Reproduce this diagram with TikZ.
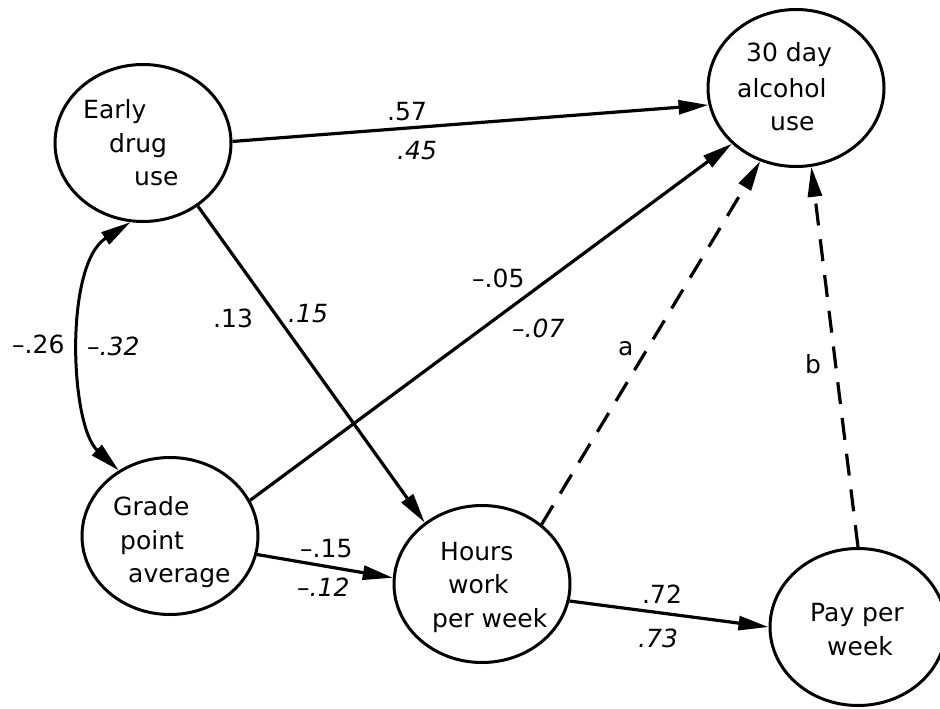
\documentclass[tikz,border=0pt]{standalone}
\usepackage{fontspec}
\setmainfont{DejaVu Sans}
\usetikzlibrary{shapes.geometric,arrows.meta}
\begin{document}
\begin{tikzpicture}[x=1pt,y=-1pt,
  var/.style={ellipse,draw,line width=3pt,minimum width=176pt,minimum height=157pt,inner sep=0pt},
  txt/.style={anchor=base west,inner sep=0pt,font=\fontsize{25}{30}\selectfont},
  lab/.style={anchor=base west,inner sep=0pt,font=\fontsize{25}{30}\selectfont},
  ilab/.style={anchor=base west,inner sep=0pt,font=\fontsize{25}{30}\selectfont\itshape},
  path/.style={line width=3.2pt,-{Triangle[length=30pt,width=14pt]}},
  dpath/.style={line width=3.2pt,dash pattern=on 22pt off 14pt,-{Triangle[length=30pt,width=14pt]}},
  cpath/.style={line width=3pt,{Triangle[length=30pt,width=14pt]}-{Triangle[length=30pt,width=14pt]}}
]
\useasboundingbox[fill=white] (0,0) rectangle (940,709);

% variables
\node[var] (edu) at (143,143) {};
\node[var] (alc) at (796,88) {};
\node[var] (gpa) at (170,536) {};
\node[var] (hrs) at (482,584) {};
\node[var] (pay) at (858,627) {};

% variable texts
\node[txt] (edu1) at (83,118) {Early};
\node[txt] (edu2) at (109,152) {drug};
\node[txt] (edu3) at (134,185) {use};
\node[txt] (alc1) at (746,62) {30 day};
\node[txt] (alc2) at (737,97) {alcohol};
\node[txt] (alc3) at (770,130) {use};
\node[txt] (gpa1) at (113,515) {Grade};
\node[txt] (gpa2) at (120,549) {point};
\node[txt] (gpa3) at (128,582) {average};
\node[txt] (hrs1) at (440,560) {Hours};
\node[txt] (hrs2) at (448,593) {work};
\node[txt] (hrs3) at (432,627) {per week};
\node[txt] (pay1) at (810,621) {Pay per};
\node[txt] (pay2) at (827,655) {week};

% connectors
\draw[path] (edu.1) -- (alc.191);
\draw[path] (edu.-49) -- (hrs.133.6);
\draw[path] (gpa.24.3) -- (alc.221.4);
\draw[path] (gpa.-12.2) -- (hrs.176);
\draw[path] (hrs.-11.6) -- (pay.180);
\draw[dpath] (hrs.45) -- (alc.244.6);
\draw[dpath] (pay.90) -- (alc.281.7);
\draw[cpath] (gpa.128.8) .. controls (70,425) and (64,265) .. (edu.-99);

% coefficients
\node[lab] (l57) at (387,120) {.57};
\node[ilab] (l45) at (397,159) {.45};
\node[lab] (l13) at (213,327) {.13};
\node[ilab] (l15) at (288,322) {.15};
\node[lab] (l26) at (12,353) {–.26};
\node[ilab] (l32) at (87,355) {–.32};
\node[lab] (l05) at (472,287) {–.05};
\node[ilab] (l07) at (512,337) {–.07};
\node[lab] (la) at (618,355) {a};
\node[lab] (lb) at (805,373) {b};
\node[lab] (l15b) at (300,557) {–.15};
\node[ilab] (l12) at (297,596) {–.12};
\node[lab] (l72) at (642,603) {.72};
\node[ilab] (l73) at (638,647) {.73};
\end{tikzpicture}
\end{document}
